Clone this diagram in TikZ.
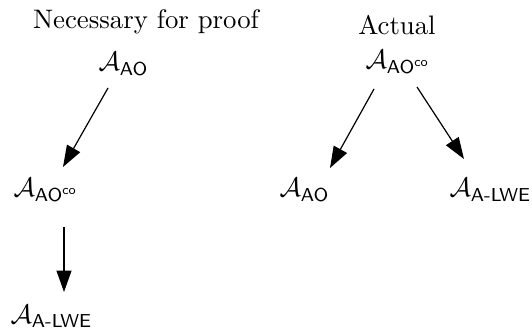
\documentclass[tikz,border=0pt]{standalone}
\usepackage{amsmath}
\usetikzlibrary{arrows.meta}
\begin{document}
\begin{tikzpicture}[x=0.3737pt, y=-0.3737pt,
  lbl/.style={inner sep=0pt, anchor=base west},
  ttl/.style={inner sep=0pt, anchor=base},
  arr/.style={-{Triangle[length=8pt,width=5.6pt]}, line width=0.45pt}]
\useasboundingbox (0,0) rectangle (532,334);

% left column: what the proof needs
\node[ttl] (tl) at (146,28) {Necessary for proof};
\node[lbl] (ao1)  at (98,71)  {$\mathcal{A}_{\mathsf{AO}}$};
\node[lbl] (aco1) at (13,197) {$\mathcal{A}_{\mathsf{AO}^{\mathsf{co}}}$};
\node[lbl] (lwe1) at (10,323) {$\mathcal{A}_{\textsf{A-LWE}}$};

% right column: what actually holds
\node[ttl] (tr) at (397,34) {Actual};
\node[lbl] (aco2) at (365,69)  {$\mathcal{A}_{\mathsf{AO}^{\mathsf{co}}}$};
\node[lbl] (ao2)  at (279,197) {$\mathcal{A}_{\mathsf{AO}}$};
\node[lbl] (lwe2) at (449,197) {$\mathcal{A}_{\textsf{A-LWE}}$};

\draw[arr] ([shift={(10,17)}]ao1.base west)  -- ([shift={(50,-30)}]aco1.base west);
\draw[arr] ([shift={(51,30)}]aco1.base west) -- ([shift={(54,-31)}]lwe1.base west);
\draw[arr] ([shift={(9,20)}]aco2.base west)  -- ([shift={(51,-29)}]ao2.base west);
\draw[arr] ([shift={(52,18)}]aco2.base west) -- ([shift={(15,-38)}]lwe2.base west);
\end{tikzpicture}
\end{document}
